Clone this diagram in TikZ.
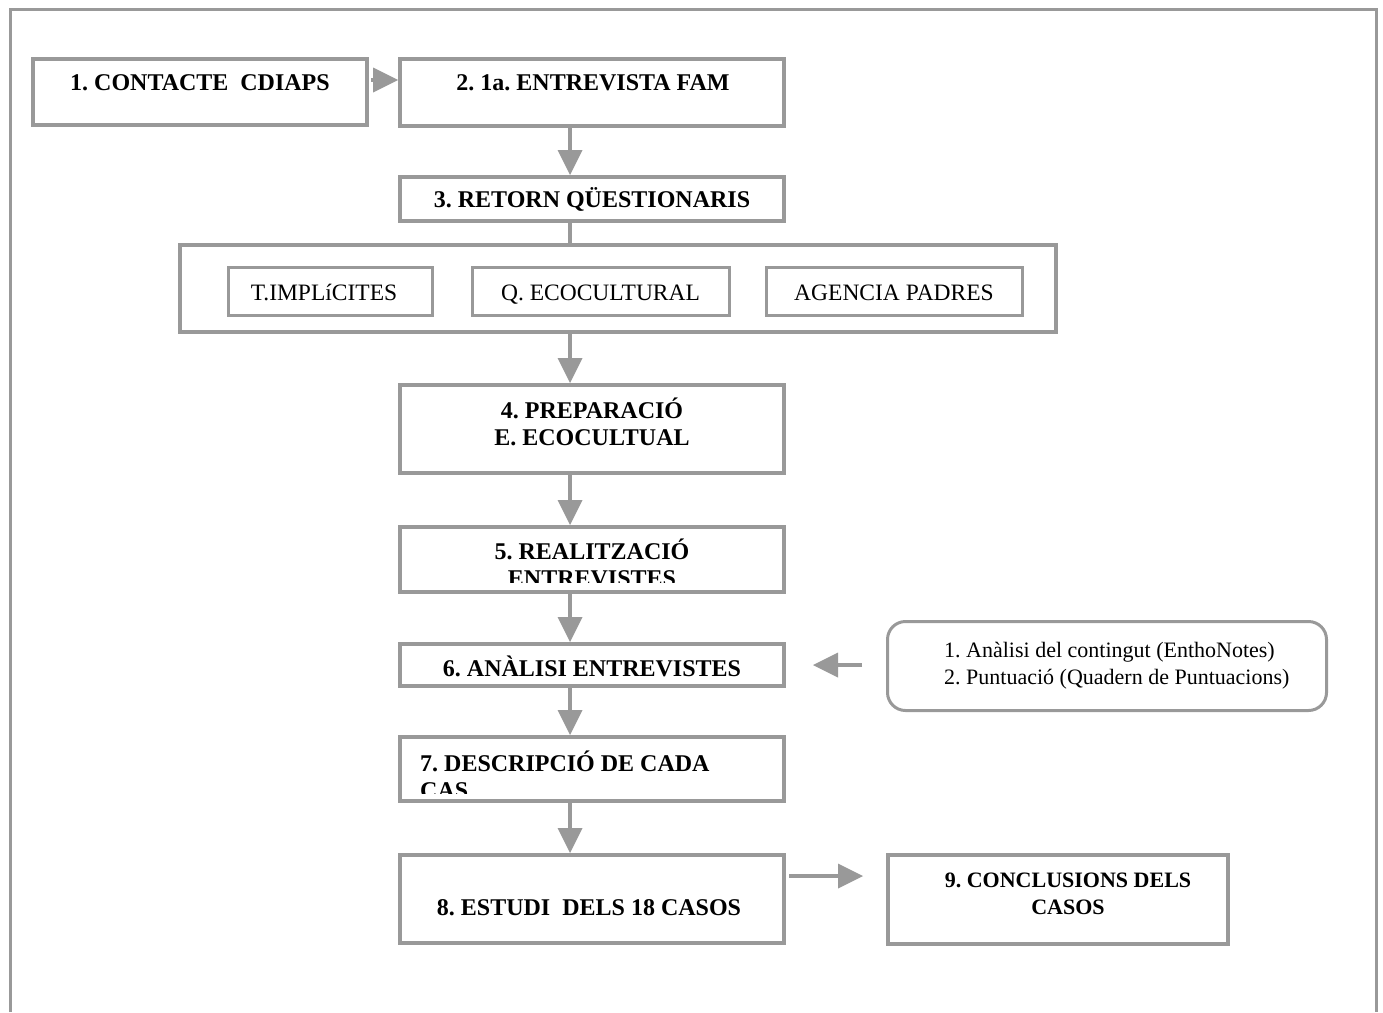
\documentclass[tikz,border=0pt]{standalone}
\usepackage{fontspec}
\setmainfont{Liberation Serif}
\usetikzlibrary{arrows.meta,calc}
\definecolor{linegray}{HTML}{999999}
\frenchspacing
\tikzset{
  box/.style={draw=linegray, line width=4pt, inner sep=0pt, fill=white},
  subbox/.style={draw=linegray, line width=3pt, inner sep=0pt, fill=white},
  notebox/.style={draw=linegray, line width=3pt, inner sep=0pt, rounded corners=18pt},
  btxt/.style={font=\fontsize{24}{27.5}\selectfont\bfseries, inner sep=0pt, anchor=base, align=center},
  ntxt/.style={font=\fontsize{23.5}{27}\selectfont, inner sep=0pt, anchor=base},
  arr/.style={draw=linegray, line width=4pt,
    -{Triangle[length=25pt, width=25pt, line width=0pt]}},
  link/.style={draw=linegray, line width=4pt},
}
\begin{document}
\begin{tikzpicture}[x=1pt, y=-1pt]
\useasboundingbox (0,0) rectangle (1383,1012);
\fill[white] (0,0) rectangle (1383,1012);

% open outer frame
\draw[linegray, line width=3pt] (10.5,1012) -- (10.5,9.5) -- (1376.5,9.5) -- (1376.5,1012);

% vertical axis of the main flow
\coordinate (axis) at (570,0);

% boxes
\node[box, minimum width=334pt, minimum height=66pt] (b1) at (200,92) {};
\node[box, minimum width=384pt, minimum height=67pt] (b2) at (592,92.5) {};
\node[box, minimum width=384pt, minimum height=44pt] (b3) at (592,199) {};
\node[box, minimum width=876pt, minimum height=87pt] (grp) at (618,288.5) {};
\node[subbox, minimum width=204pt, minimum height=48pt] (s1) at (330.5,291.5) {};
\node[subbox, minimum width=257pt, minimum height=48pt] (s2) at (601,291.5) {};
\node[subbox, minimum width=256pt, minimum height=48pt] (s3) at (894.5,291.5) {};
\node[box, minimum width=384pt, minimum height=88pt] (b4) at (592,429) {};
\node[box, minimum width=384pt, minimum height=65pt] (b5) at (592,559.5) {};
\node[box, minimum width=384pt, minimum height=42pt] (b6) at (592,665) {};
\node[box, minimum width=384pt, minimum height=64pt] (b7) at (592,769) {};
\node[box, minimum width=384pt, minimum height=88pt] (b8) at (592,899) {};
\node[box, minimum width=340pt, minimum height=89pt] (b9) at (1058,899.5) {};
\node[notebox, minimum width=439pt, minimum height=89pt] (nb) at (1107,666) {};

% texts (for two-line texts the base anchor sits on the last line)
\node[btxt] (t1) at (200,90) {1. CONTACTE~~CDIAPS};
\node[btxt] (t2) at (593,90) {2. 1a. ENTREVISTA FAM};
\node[btxt] (t3) at (592,207) {3. RETORN QÜESTIONARIS};
\node[ntxt] (ts1) at (324,300) {T.IMPLíCITES};
\node[ntxt] (ts2) at (600.5,300) {Q. ECOCULTURAL};
\node[ntxt] (ts3) at (894,300) {AGENCIA PADRES};
\node[btxt] (t4) at (592,445.5) {4. PREPARACIÓ\\E. ECOCULTUAL};
\begin{scope}
  \clip (b5.north west) rectangle ($(b5.south east)+(0,-12)$);
  \node[btxt] (t5) at (592,586.5) {5. REALITZACIÓ\\ENTREVISTES};
\end{scope}
\node[btxt] (t6) at (592,676) {6. ANÀLISI ENTREVISTES};
\begin{scope}
  \clip (b7.north west) rectangle ($(b7.south east)+(0,-10)$);
  \node[btxt, align=left, anchor=base west] (t7) at (420,798.5) {7. DESCRIPCIÓ DE CADA\\CAS};
\end{scope}
\node[btxt] (t8) at (589,915) {8. ESTUDI~~DELS 18 CASOS};
\node[btxt, font=\fontsize{22}{27}\selectfont\bfseries] (t9) at (1068,914) {9. CONCLUSIONS DELS\\CASOS};
\node[ntxt, font=\fontsize{22}{27}\selectfont, align=left, anchor=base west] (tn) at (944,684)
  {1. Anàlisi del contingut (EnthoNotes)\\2. Puntuació (Quadern de Puntuacions)};

% connectors
\draw[arr, shorten <=2pt] (b1.east |- 0,80) -- (b2.west |- 0,80);
\draw[arr] (b2.south -| axis) -- (b3.north -| axis);
\draw[link] (b3.south -| axis) -- (grp.north -| axis);
\draw[arr] (grp.south -| axis) -- (b4.north -| axis);
\draw[arr] (b4.south -| axis) -- (b5.north -| axis);
\draw[arr] (b5.south -| axis) -- (b6.north -| axis);
\draw[arr] (b6.south -| axis) -- (b7.north -| axis);
\draw[arr] (b7.south -| axis) -- (b8.north -| axis);
\draw[arr, shorten <=24pt, shorten >=27pt] (nb.west |- 0,665) -- (b6.east |- 0,665);
\draw[arr, shorten <=3pt, shorten >=23pt] (b8.east |- 0,876) -- (b9.west |- 0,876);
\end{tikzpicture}
\end{document}
